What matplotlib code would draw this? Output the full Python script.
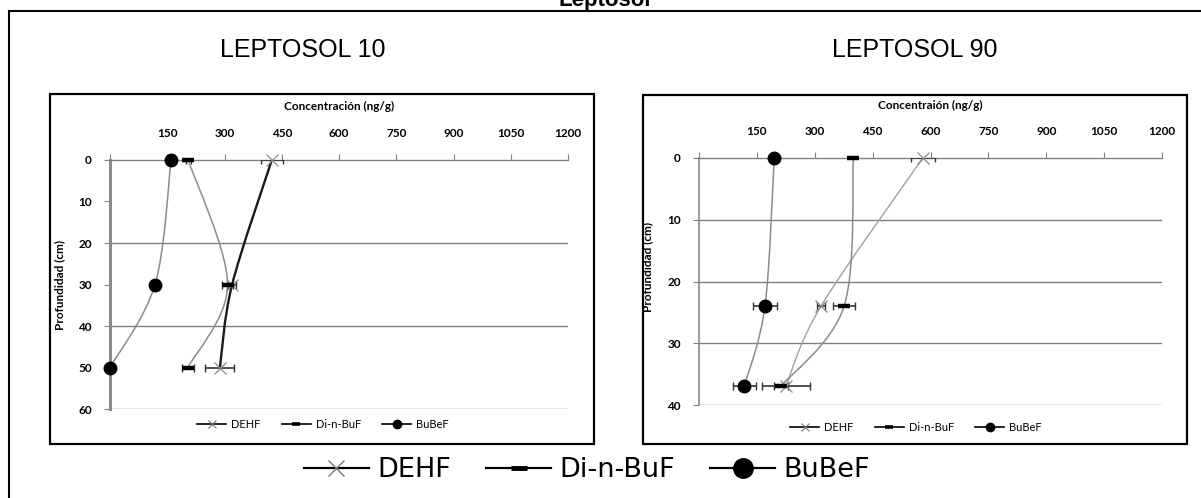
import matplotlib
matplotlib.use('Agg')
import matplotlib.pyplot as plt
import numpy as np
from matplotlib.path import Path
from matplotlib.patches import PathPatch, Rectangle
from matplotlib.lines import Line2D

# ---------------- data ----------------
series_names = ['DEHF', 'Di-n-BuF', 'BuBeF']

l10_depth = [0, 30, 50]
l10_dehf = [424, 320, 288]
l10_dehf_err = [28, 10, 38]
l10_dinbuf = [205, 308, 204]
l10_dinbuf_err = [6, 14, 15]
l10_bubef = [160, 118, 0]
l10_bubef_err = [0, 6, 0]

l90_depth = [0, 24, 37]
l90_dehf = [580, 316, 225]
l90_dehf_err = [31, 10, 62]
l90_dinbuf = [400, 376, 212]
l90_dinbuf_err = [0, 28, 18]
l90_bubef = [195, 171, 117]
l90_bubef_err = [0, 30, 30]

x_ticks = [0, 150, 300, 450, 600, 750, 900, 1050, 1200]
x_tick_labels = ['', '150', '300', '450', '600', '750', '900', '1050', '1200']
l10_yticks = [0, 10, 20, 30, 40, 50, 60]
l10_grid = [20, 40, 60]
l90_yticks = [0, 10, 20, 30, 40]
l90_grid = [10, 20, 30, 40]

W, H = 1201, 498
fig = plt.figure(figsize=(W / 100, H / 100), dpi=100)
fig.patch.set_facecolor('white')

def fx(px):
    return px / W

def fy(py):
    return 1 - py / H

CH = 'Lato'

def smooth_path(xs, ys):
    pts = np.column_stack([xs, ys]).astype(float)
    n = len(pts)
    verts = [pts[0]]
    codes = [Path.MOVETO]
    for i in range(n - 1):
        p0 = pts[i - 1] if i > 0 else pts[i]
        p1 = pts[i]
        p2 = pts[i + 1]
        p3 = pts[i + 2] if i + 2 < n else pts[i + 1]
        c1 = p1 + (p2 - p0) / 6.0
        c2 = p2 - (p3 - p1) / 6.0
        verts += [c1, c2, p2]
        codes += [Path.CURVE4] * 3
    return Path(verts, codes)

def draw_panel(ax, depth, vals, errs, yticks, grid, ymax, line_styles, xlabel, ylab_y, left_lw):
    ax.set_xlim(0, 1200)
    ax.set_ylim(ymax, 0)
    ax.xaxis.tick_top()
    ax.set_xticks(x_ticks)
    ax.set_xticklabels(x_tick_labels)
    ax.set_yticks(yticks)
    for s in ['right', 'bottom']:
        ax.spines[s].set_visible(False)
    ax.spines['top'].set_color('#808080')
    ax.spines['top'].set_linewidth(1.0)
    ax.spines['left'].set_color('#8a8a8a')
    ax.spines['left'].set_linewidth(left_lw)
    ax.hlines(grid, 0, 1200, color='#808080', lw=1.0, zorder=1)
    ax.tick_params(axis='x', direction='out', length=4, color='#808080', pad=11,
                   labelsize=8.5)
    ax.tick_params(axis='y', direction='out', length=4, color='#808080', pad=9,
                   labelsize=8.5)
    for lab in ax.get_xticklabels() + ax.get_yticklabels():
        lab.set_fontfamily(CH)
        lab.set_fontweight('bold')
    ax.set_xlabel(xlabel, fontsize=8.5, fontweight='bold', family=CH)
    ax.xaxis.set_label_position('top')
    ax.xaxis.set_label_coords(0.5, 1.2)
    ax.set_ylabel('Profundidad (cm)', fontsize=8.5, fontweight='bold', family=CH)
    ax.yaxis.set_label_coords(-0.098, ylab_y)

    markers = [dict(marker='x', ms=9, mew=0.9, mec='#8a8a8a', mfc='none'),
               dict(marker='_', ms=8, mew=3.2, mec='black'),
               dict(marker='o', ms=9, mec='black', mfc='black')]
    for v, e, ls, mk in zip(vals, errs, line_styles, markers):
        ax.add_patch(PathPatch(smooth_path(v, depth), fill=False,
                               edgecolor=ls[0], lw=ls[1], zorder=2))
        xe = [a for a, b in zip(v, e) if b > 0]
        ye = [d for d, b in zip(depth, e) if b > 0]
        ee = [b for b in e if b > 0]
        if ee:
            ax.errorbar(xe, ye, xerr=ee, fmt='none', ecolor='#333333',
                        elinewidth=1.2, capsize=3, capthick=1.0, zorder=3)
        ax.plot(v, depth, linestyle='none', zorder=4, clip_on=False, **mk)

# outer frame and panel boxes
fig.patches.append(Rectangle((fx(9), fy(520)), fx(1230) - fx(9), fy(11) - fy(520),
                             transform=fig.transFigure, fill=False, ec='black', lw=1.5))
fig.patches.append(Rectangle((fx(50), fy(444)), fx(594) - fx(50), fy(94) - fy(444),
                             transform=fig.transFigure, fill=False, ec='black', lw=1.6))
fig.patches.append(Rectangle((fx(643), fy(444)), fx(1187) - fx(643), fy(95) - fy(444),
                             transform=fig.transFigure, fill=False, ec='black', lw=1.6))

fig.text(fx(605), fy(6), 'Leptosol', ha='center', va='baseline', fontsize=16,
         fontweight='bold', family='Liberation Sans')
fig.text(fx(303), fy(50), 'LEPTOSOL 10', ha='center', va='center', fontsize=18,
         family='Liberation Sans')
fig.text(fx(915), fy(50), 'LEPTOSOL 90', ha='center', va='center', fontsize=18,
         family='Liberation Sans')

ax1 = fig.add_axes([fx(110), fy(409), (568 - 110) / W, (409 - 160) / H])
ax2 = fig.add_axes([fx(699), fy(405), (1162 - 699) / W, (405 - 158) / H])
for a in (ax1, ax2):
    a.set_facecolor('none')

draw_panel(ax1, l10_depth, [l10_dehf, l10_dinbuf, l10_bubef],
           [l10_dehf_err, l10_dinbuf_err, l10_bubef_err], l10_yticks, l10_grid, 60,
           [('#1a1a1a', 1.7), ('#8c8c8c', 1.1), ('#8c8c8c', 1.1)],
           'Concentración (ng/g)', 0.5, 2.2)
draw_panel(ax2, l90_depth, [l90_dehf, l90_dinbuf, l90_bubef],
           [l90_dehf_err, l90_dinbuf_err, l90_bubef_err], l90_yticks, l90_grid, 40,
           [('#a0a0a0', 1.0), ('#8c8c8c', 1.1), ('#8c8c8c', 1.1)],
           'Concentraión (ng/g)', 0.56, 1.2)

def legend_handles(lw, ms, dash_w, dash_t, dot_ms, x_mew):
    return [Line2D([], [], color='black', lw=lw, marker='x', ms=ms,
                   mew=x_mew, mec='#777777'),
            Line2D([], [], color='black', lw=lw, marker='_', ms=dash_w,
                   mew=dash_t, mec='black'),
            Line2D([], [], color='black', lw=lw, marker='o', ms=dot_ms,
                   mec='black', mfc='black')]

for ax, cx, cy in ((ax1, 323, 424), (ax2, 916, 427)):
    ax.legend(legend_handles(1.2, 6, 6, 2.6, 6, 0.8), series_names, loc='center',
              bbox_to_anchor=(fx(cx), fy(cy)), bbox_transform=fig.transFigure,
              ncol=3, frameon=False, handlelength=2.6, handletextpad=0.45,
              columnspacing=1.9, prop={'family': CH, 'size': 8})

fig.legend(legend_handles(1.6, 12, 11, 3.5, 14, 1.0), series_names, loc='center',
           bbox_to_anchor=(fx(587), fy(470)), bbox_transform=fig.transFigure,
           ncol=3, frameon=False, handlelength=2.4, handletextpad=0.3,
           columnspacing=1.3, prop={'family': 'DejaVu Sans', 'size': 19.5})

fig.savefig('out.png', dpi=100, facecolor='white')
